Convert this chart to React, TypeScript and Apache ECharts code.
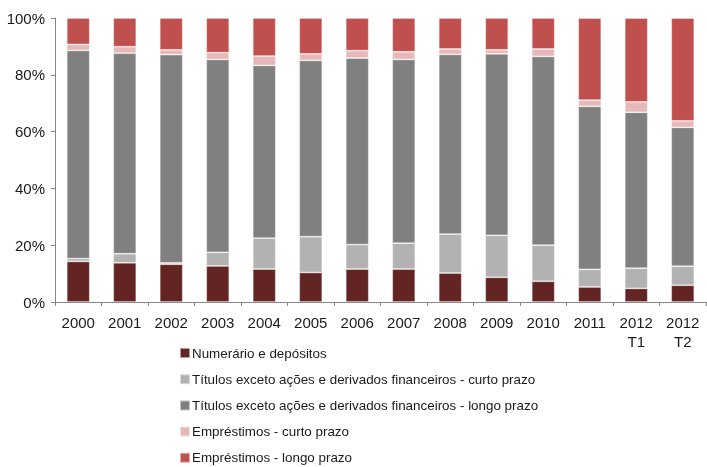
import React, { useEffect, useRef } from "react";
import * as echarts from "echarts";

const categories = ["2000", "2001", "2002", "2003", "2004", "2005", "2006", "2007", "2008", "2009", "2010", "2011", "2012\nT1", "2012\nT2"];
const seriesNames = [
  "Numerário e depósitos",
  "Títulos exceto ações e derivados financeiros - curto prazo",
  "Títulos exceto ações e derivados financeiros - longo prazo",
  "Empréstimos - curto prazo",
  "Empréstimos - longo prazo",
];
const numerario = [14.3, 13.8, 13.3, 12.7, 11.6, 10.4, 11.6, 11.6, 10.2, 8.7, 7.3, 5.3, 4.8, 5.9];
const titulosCurto = [1.0, 3.2, 0.5, 4.8, 10.9, 12.6, 8.6, 9.1, 13.7, 14.8, 12.7, 6.2, 7.1, 6.7];
const titulosLongo = [73.3, 70.6, 73.3, 67.9, 60.8, 62.1, 65.7, 64.7, 63.3, 63.9, 66.5, 57.4, 54.9, 48.9];
const emprestimosCurto = [2.1, 2.3, 1.7, 2.4, 3.3, 2.3, 2.6, 2.7, 1.9, 1.4, 2.6, 2.2, 3.7, 2.3];
const emprestimosLongo = [9.3, 10.1, 11.2, 12.2, 13.4, 12.6, 11.5, 11.9, 10.9, 11.2, 10.9, 28.9, 29.5, 36.2];
const yTicks = [0, 20, 40, 60, 80, 100];

const colors = ["#632523", "#b2b2b2", "#808080", "#e6b9b8", "#c0504d"];
const FONT = "'Liberation Sans Narrow', 'Liberation Sans', Arial, sans-serif";

export default function App() {
  const ref = useRef<HTMLDivElement>(null);
  useEffect(() => {
    if (!ref.current) return;
    const chart = echarts.init(ref.current, undefined, { renderer: "svg" });
    const all = [numerario, titulosCurto, titulosLongo, emprestimosCurto, emprestimosLongo];
    chart.setOption({
      animation: false,
      textStyle: { fontFamily: FONT },
      grid: { left: 55, right: 1, top: 18, bottom: 165 },
      legend: {
        orient: "vertical",
        left: 179,
        top: 345,
        padding: 0,
        itemWidth: 10,
        itemHeight: 10,
        itemGap: 10.2,
        icon: "rect",
        data: seriesNames,
        textStyle: { fontFamily: FONT, fontSize: 13.4, color: "#1a1a1a", lineHeight: 16, padding: [0, 0, 0, -3] },
      },
      xAxis: {
        type: "category",
        data: categories,
        axisLine: { show: true, lineStyle: { color: "#868686" } },
        axisTick: { show: true, length: 4, lineStyle: { color: "#868686" } },
        axisLabel: { fontFamily: FONT, fontSize: 15, color: "#1a1a1a", margin: 11, lineHeight: 19, interval: 0 },
      },
      yAxis: {
        type: "value",
        min: 0,
        max: 100,
        interval: 20,
        axisLine: { show: true, lineStyle: { color: "#868686" } },
        axisTick: { show: true, length: 4, lineStyle: { color: "#868686" } },
        splitLine: { show: false },
        axisLabel: {
          fontFamily: FONT,
          fontSize: 15,
          color: "#1a1a1a",
          margin: 10,
          formatter: (v: number) => (yTicks.includes(v) ? v + "%" : ""),
        },
      },
      series: seriesNames.map((name, i) => ({
        name,
        type: "bar",
        stack: "total",
        barWidth: 23,
        data: all[i],
        itemStyle: { color: colors[i], borderColor: "rgba(255,255,255,0.55)", borderWidth: 0.75 },
      })),
    });
    return () => chart.dispose();
  }, []);
  return <div ref={ref} style={{ position: "fixed", left: 0, top: 0, width: 707, height: 467 }} />;
}
